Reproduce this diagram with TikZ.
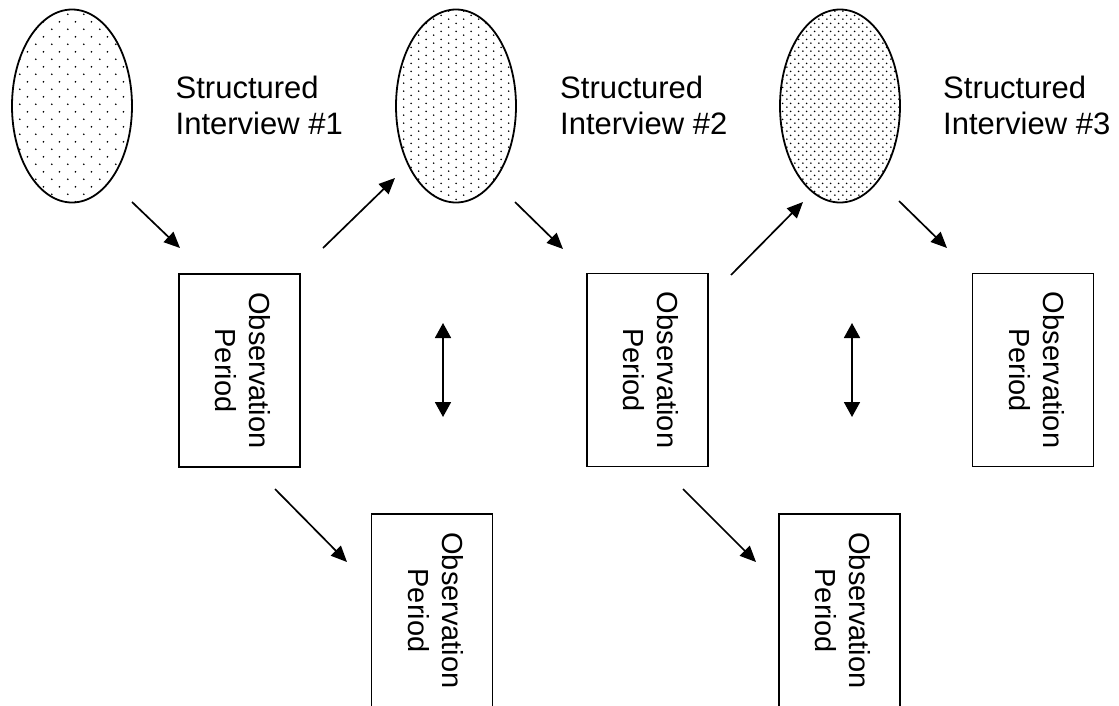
\documentclass[tikz,border=0pt]{standalone}
\usepackage{fontspec}
\setmainfont{Liberation Sans}
\usetikzlibrary{shapes.geometric,arrows.meta,patterns.meta}
\pgfdeclarepattern{
  name=SDots,
  parameters={\sdw,\sdh,\sdr},
  bottom left={\pgfpoint{0pt}{0pt}},
  top right={\pgfpoint{\sdw}{\sdh}},
  tile size={\pgfpoint{\sdw}{\sdh}},
  defaults={
    sd w/.store in=\sdw, sd w=8pt,
    sd h/.store in=\sdh, sd h=8pt,
    sd r/.store in=\sdr, sd r=0.95pt,
  },
  code={
    \pgfpathcircle{\pgfpoint{\sdw/4}{\sdh/4}}{\sdr}
    \pgfpathcircle{\pgfpoint{3*\sdw/4}{3*\sdh/4}}{\sdr}
    \pgfusepath{fill}
  },
}
\tikzset{
  oval/.style={ellipse, draw, line width=1.8pt, minimum width=120pt, minimum height=193pt, inner sep=0pt},
  obsbox/.style={rectangle, draw, line width=1.8pt, rotate=-90, minimum width=193pt, minimum height=121pt, inner sep=0pt, font=\fontsize{29}{34}\selectfont},
  label/.style={anchor=north west, inner sep=0pt, align=left, font=\fontsize{31}{36.3}\selectfont},
  arr/.style={-{Triangle[length=16pt,width=14pt]}, line width=1.7pt},
  darr/.style={{Triangle[length=15pt,width=16pt]}-{Triangle[length=15pt,width=16pt]}, line width=1.8pt}
}
\newcommand{\obstext}{\begin{tabular}{@{}c@{}}Observation\\Period\end{tabular}}
\begin{document}
\begin{tikzpicture}[x=1pt,y=-1pt]
\useasboundingbox (0,0) rectangle (1119,705);
% ellipses
\node[oval, pattern={SDots[sd w=15.6pt, sd h=15.4pt]}, pattern color=black] (e1) at (72,106) {};
\node[oval, pattern={SDots[sd w=15.4pt, sd h=8.2pt]}, pattern color=black] (e2) at (456,106) {};
\node[oval, pattern={SDots[sd w=7.7pt, sd h=8.2pt]}, pattern color=black] (e3) at (840,106) {};
% labels
\node[label] (t1) at (175.5,75.5) {Structured\\Interview \#1};
\node[label] (t2) at (560,75.5) {Structured\\Interview \#2};
\node[label] (t3) at (943,75.5) {Structured\\Interview \#3};
% boxes
\node[obsbox] (b1) at (239.5,370.5) {\obstext};
\node[obsbox] (b2) at (432,610.5) {\obstext};
\node[obsbox] (b3) at (647.5,370) {\obstext};
\node[obsbox] (b4) at (839.5,610.5) {\obstext};
\node[obsbox] (b5) at (1033,370) {\obstext};
% arrows
\draw[arr] ([shift={(60,96)}]e1.center) -- ([shift={(-59.5,-122.5)}]b1.center);
\draw[arr] ([shift={(83.5,-122.5)}]b1.center) -- ([shift={(-61,72)}]e2.center);
\draw[arr] ([shift={(59,96)}]e2.center) -- ([shift={(-84.5,-121)}]b3.center);
\draw[arr] ([shift={(83.5,-95)}]b3.center) -- ([shift={(-37,96)}]e3.center);
\draw[arr] ([shift={(59,95)}]e3.center) -- ([shift={(-86,-122)}]b5.center);
\draw[arr] ([shift={(35.5,118.5)}]b1.center) -- ([shift={(-85,-48.5)}]b2.center);
\draw[arr] ([shift={(35.5,119)}]b3.center) -- ([shift={(-83.5,-48.5)}]b4.center);
% double arrows
\coordinate (d1a) at (443,323);
\coordinate (d1b) at (443,417);
\coordinate (d2a) at (852,323);
\coordinate (d2b) at (852,417);
\draw[darr] (d1a) -- (d1b);
\draw[darr] (d2a) -- (d2b);
\end{tikzpicture}
\end{document}
